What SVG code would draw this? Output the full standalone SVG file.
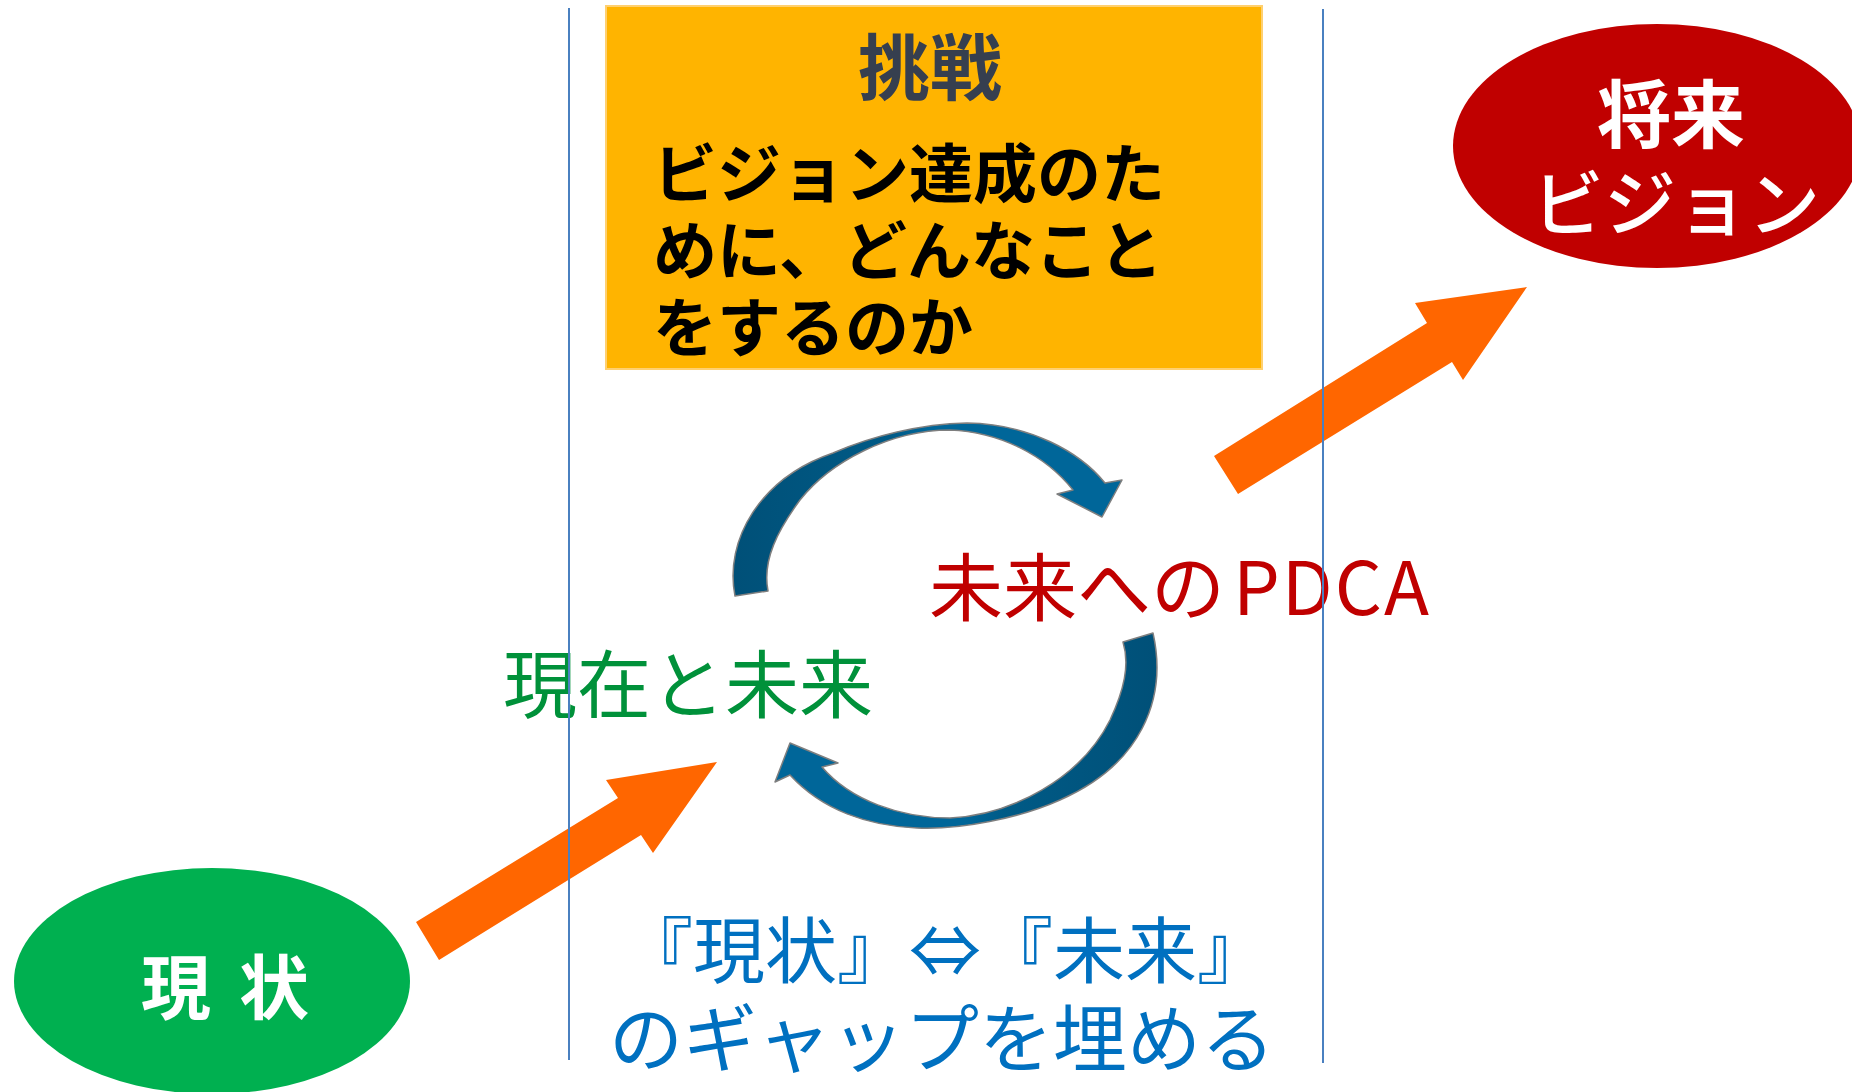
<svg xmlns="http://www.w3.org/2000/svg" width="1852" height="1092" viewBox="0 0 1852 1092">
<defs>
<style>
text{font-family:"Noto Sans CJK JP","Noto Sans",sans-serif;}
.w{fill:#FFFFFF;font-weight:bold;}
.bx{fill:#000000;font-weight:bold;font-size:64px;}
.orange{fill:#FF6600;}
.cyc{stroke:#7F7F7F;stroke-width:1.5;stroke-linejoin:round;}
.div{stroke:#4A80C0;stroke-width:2;}
</style>
<linearGradient id="gTop" x1="735" y1="0" x2="1122" y2="0" gradientUnits="userSpaceOnUse">
<stop offset="0" stop-color="#005078"/>
<stop offset="0.4" stop-color="#005A86"/>
<stop offset="0.5" stop-color="#006699"/>
<stop offset="1" stop-color="#006699"/>
</linearGradient>
<linearGradient id="gBot" x1="1157" y1="0" x2="775" y2="0" gradientUnits="userSpaceOnUse">
<stop offset="0" stop-color="#005078"/>
<stop offset="0.4" stop-color="#005A86"/>
<stop offset="0.5" stop-color="#006699"/>
<stop offset="1" stop-color="#006699"/>
</linearGradient>
</defs>
<rect width="1852" height="1092" fill="#FFFFFF"/>

<g id="challenge">
<rect x="606" y="6" width="656" height="363" fill="#FFB400" stroke="#FFD070" stroke-width="2"/>
<text x="930" y="94" text-anchor="middle" font-size="72" font-weight="bold" fill="#363F4F">挑戦</text>
<text class="bx" x="653" y="197">ビジョン達成のた<tspan x="653" dy="77">めに、どんなこと</tspan><tspan x="653" dy="77">をするのか</tspan></text>
</g>

<g id="vision">
<ellipse cx="1657" cy="146" rx="204" ry="122" fill="#C00000"/>
<text class="w" x="1671" y="142" text-anchor="middle" font-size="74">将来<tspan x="1676" dy="88" font-size="72" font-weight="500">ビジョン</tspan></text>
</g>

<g id="genjo">
<ellipse cx="212" cy="981" rx="198" ry="113" fill="#00B050"/>
<text class="w" x="141" y="1014" font-size="70" letter-spacing="28">現状</text>
</g>

<g id="connectors">
<polygon class="orange" points="416,922 439,960 641,835 653,853 717,762 606,780 618,798"/>
<polygon class="orange" points="1214,456 1238,494 1452,362 1463,380 1527,287 1415,303 1427,323"/>
<path class="cyc" fill="url(#gTop)" d="M735,596 C724,540 760,478 833,453 C872,436 920,424 967,423 C1030,424 1080,452 1105,483 L1122,480 L1102,517 L1057,494 L1073,490 C1045,455 1000,432 950,430 C890,430 830,462 800,500 C778,530 762,560 768,591 Z"/>
<path class="cyc" fill="url(#gBot)" d="M1153,633 C1168,700 1140,765 1060,800 C1020,818 960,830 917,828 C868,826 822,810 790,775 L775,782 L790,743 L838,763 L822,767 C850,800 900,818 950,818 C1010,815 1080,780 1110,720 C1124,690 1130,665 1123,642 Z"/>
</g>

<g id="pdca-label">
<text x="929" y="615" font-size="74" fill="#C00000">未来への<tspan x="1233" letter-spacing="2">PDCA</tspan></text>
</g>
<g id="now-future-label">
<text x="503" y="712" font-size="74" fill="#00913A">現在と未来</text>
</g>
<g id="gap-label">
<text x="945" y="977" text-anchor="middle" font-size="72" fill="#0070C0">『現状』⇔『未来』<tspan x="942" dy="89" font-size="74">のギャップを埋める</tspan></text>
</g>

<g id="dividers">
<line class="div" x1="569" y1="8" x2="569" y2="1060"/>
<line class="div" x1="1323" y1="9" x2="1323" y2="1063"/>
</g>
</svg>
